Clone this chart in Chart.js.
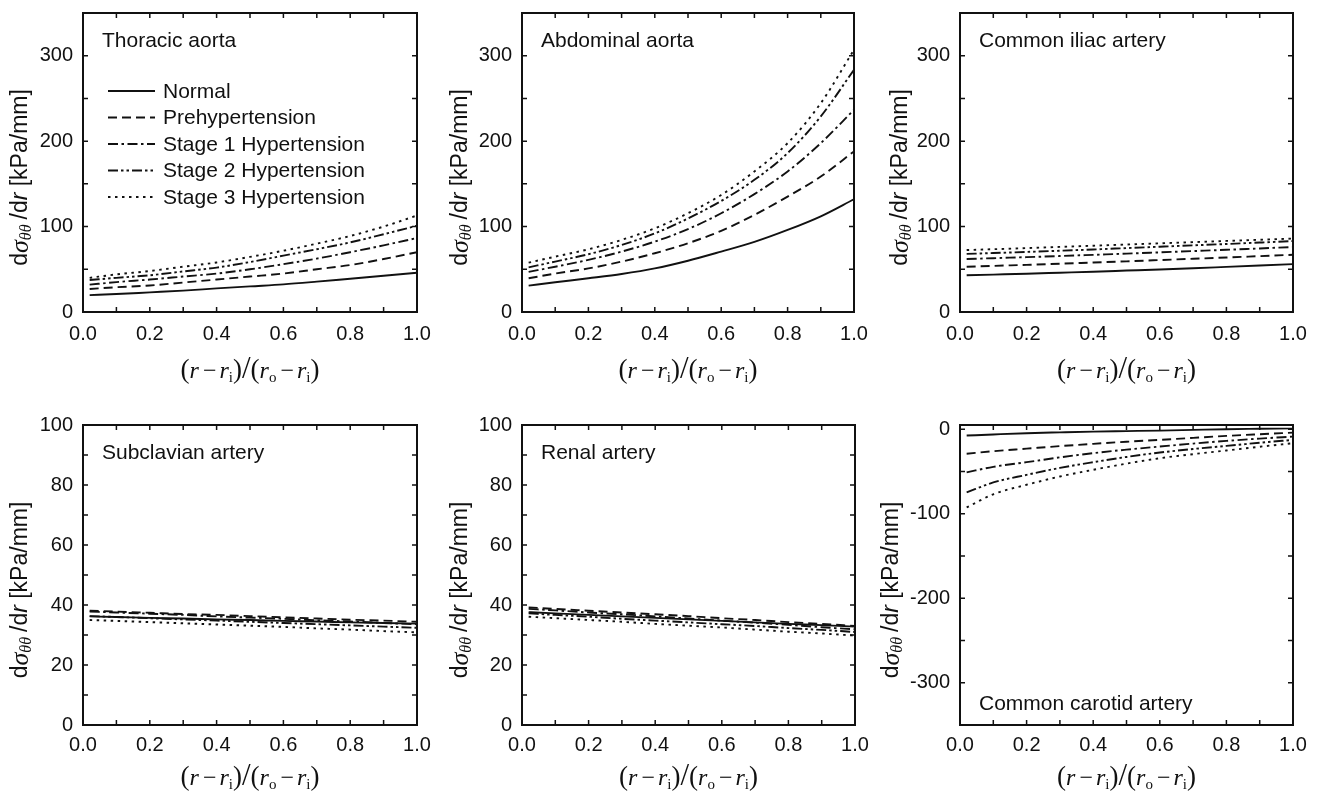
<!DOCTYPE html>
<html>
<head>
<meta charset="utf-8">
<script src="https://cdn.jsdelivr.net/npm/chart.js@4.4.0/dist/chart.umd.min.js"></script>
<style>
  body { margin: 0; background: #fff; }
  .panel { position: absolute; }
</style>
</head>
<body>
<div class="panel" style="left:0;top:0"><canvas id="c1" width="440" height="400"></canvas></div>
<div class="panel" style="left:440px;top:0"><canvas id="c2" width="440" height="400"></canvas></div>
<div class="panel" style="left:880px;top:0"><canvas id="c3" width="438" height="400"></canvas></div>
<div class="panel" style="left:0;top:400px"><canvas id="c4" width="440" height="399"></canvas></div>
<div class="panel" style="left:440px;top:400px"><canvas id="c5" width="440" height="399"></canvas></div>
<div class="panel" style="left:880px;top:400px"><canvas id="c6" width="438" height="399"></canvas></div>
<script>
// normalised radius (r - ri)/(ro - ri)
const xPos = [0.02, 0.1, 0.2, 0.3, 0.4, 0.5, 0.6, 0.7, 0.8, 0.9, 1.0];
const groups = ['Normal', 'Prehypertension', 'Stage 1 Hypertension', 'Stage 2 Hypertension', 'Stage 3 Hypertension'];
const xTicks = [0, 0.2, 0.4, 0.6, 0.8, 1.0];
const yTicksLarge = [0, 100, 200, 300];
const yTicksSmall = [0, 20, 40, 60, 80, 100];
const yTicksCarotid = [0, -100, -200, -300];

// d sigma_theta theta / dr [kPa/mm], one row per group
const thoracicAorta = [
  [19.7, 21, 23, 25, 27.6, 30, 32.3, 35.5, 39, 42.5, 46],
  [27, 29, 31, 34.5, 38, 41.5, 45, 50, 55, 62, 70],
  [32, 35, 38, 41.5, 45, 50, 56, 62.5, 70, 78, 86.6],
  [37.4, 40, 43, 47.5, 52, 58.5, 66, 73.5, 81.5, 91, 101],
  [40, 44, 48, 53, 58, 64.5, 71.7, 80, 89, 100, 113]
];
const abdominalAorta = [
  [30.9, 34.8, 39.5, 44.5, 51, 60, 70.7, 82, 96, 112, 132],
  [39.5, 45, 51, 59, 68.8, 80.5, 95, 113.7, 135, 158.6, 188],
  [47, 53, 61, 70.7, 82.4, 97, 115.6, 138, 164.5, 197.7, 236.7],
  [52.3, 59, 67.6, 78.5, 92, 109.5, 130, 154.7, 186, 229, 283.6],
  [57.8, 64.8, 73.4, 84.4, 98, 115.6, 137, 164.5, 197.7, 244.5, 307]
];
const commonIliac = [
  [43, 43.8, 44.8, 46, 47.2, 48.5, 49.8, 51.2, 52.8, 54.4, 56],
  [53, 54, 55.2, 56.5, 57.9, 59.3, 60.8, 62.3, 63.8, 65.4, 67],
  [62, 63, 64.2, 65.5, 66.9, 68.3, 69.8, 71.3, 72.8, 74.4, 76],
  [68, 69, 70.3, 71.7, 73.2, 74.8, 76.4, 78, 79.6, 81.3, 83],
  [72.5, 73.5, 74.8, 76.2, 77.6, 79, 80.4, 81.8, 83.2, 84.6, 86]
];
const subclavian = [
  [36.2, 36.0, 35.7, 35.5, 35.2, 35.0, 34.7, 34.5, 34.2, 34.0, 33.8],
  [38.1, 37.8, 37.4, 37.0, 36.7, 36.3, 35.9, 35.5, 35.1, 34.8, 34.4],
  [37.8, 37.5, 37.1, 36.7, 36.2, 35.8, 35.4, 34.9, 34.5, 34.0, 33.6],
  [36.3, 36.0, 35.6, 35.2, 34.8, 34.4, 34.0, 33.6, 33.2, 32.8, 32.4],
  [35.0, 34.7, 34.3, 33.9, 33.5, 33.1, 32.7, 32.2, 31.8, 31.3, 30.9]
];
const renal = [
  [37.6, 37.2, 36.7, 36.2, 35.7, 35.2, 34.7, 34.2, 33.7, 33.3, 32.8],
  [39.2, 38.7, 38.1, 37.5, 36.9, 36.3, 35.6, 35.0, 34.3, 33.7, 33.0],
  [38.7, 38.2, 37.5, 36.9, 36.2, 35.5, 34.8, 34.1, 33.4, 32.6, 31.9],
  [37.2, 36.7, 36.1, 35.4, 34.8, 34.2, 33.6, 33.0, 32.3, 31.7, 31.0],
  [36.1, 35.6, 35.0, 34.4, 33.7, 33.1, 32.5, 31.8, 31.1, 30.5, 29.8]
];
const commonCarotid = [
  [-7.5, -6.2, -4.7, -3.7, -2.8, -2.2, -1.6, -0.8, 0, 0.6, 1.2],
  [-29, -26, -23, -20, -17.3, -14.8, -12.6, -10.2, -7.9, -5.9, -4],
  [-51, -44.5, -39, -33.3, -28.3, -24.2, -20.5, -17, -13.8, -11.1, -8.7],
  [-74.8, -63, -54, -45.8, -39, -32.8, -27.6, -23.4, -19.7, -16, -12.6],
  [-92.5, -77, -65.7, -56, -48, -40.7, -34.3, -29.5, -25.2, -20.7, -16.5]
];

const dashes = [[], [9, 5], [10, 3.5, 2.5, 3.5], [10, 3, 2.5, 3, 2.5, 3], [2.5, 4.5]];
const SANS = '"Liberation Sans", Arial, sans-serif';
const SERIF = '"Liberation Serif", "Times New Roman", serif';
const INK = '#111';

// draw a row of text pieces with their own fonts, centred on 0
function drawPieces(ctx, pieces) {
  let total = 0;
  pieces.forEach(p => { ctx.font = p.f; p.w = ctx.measureText(p.t).width + (p.gap || 0); total += p.w; });
  let cx = -total / 2;
  pieces.forEach(p => {
    ctx.font = p.f;
    ctx.fillText(p.t, cx, p.dy || 0);
    cx += p.w;
  });
}

const yTitle = [
  { t: 'd', f: '23px ' + SANS },
  { t: 'σ', f: 'italic 26px ' + SERIF },
  { t: 'θθ', f: 'italic 16px ' + SERIF, dy: 6, gap: 5 },
  { t: '/d', f: '23px ' + SANS },
  { t: 'r', f: 'italic 23px ' + SANS },
  { t: ' [kPa/mm]', f: '23px ' + SANS }
];
const xTitle = [
  { t: '(', f: '27px ' + SERIF },
  { t: 'r', f: 'italic 24px ' + SERIF, gap: 4 },
  { t: '−', f: '24px ' + SERIF, gap: 3 },
  { t: 'r', f: 'italic 24px ' + SERIF },
  { t: 'i', f: '15px ' + SERIF, dy: 4 },
  { t: ')', f: '27px ' + SERIF },
  { t: '/', f: '31px ' + SERIF },
  { t: '(', f: '27px ' + SERIF },
  { t: 'r', f: 'italic 24px ' + SERIF },
  { t: 'o', f: '15px ' + SERIF, dy: 4, gap: 4 },
  { t: '−', f: '24px ' + SERIF, gap: 3 },
  { t: 'r', f: 'italic 24px ' + SERIF },
  { t: 'i', f: '15px ' + SERIF, dy: 4 },
  { t: ')', f: '27px ' + SERIF }
];

const decor = {
  id: 'decor',
  afterDatasetsDraw(chart, args, o) {
    const { ctx, chartArea: a, scales: { x, y } } = chart;
    ctx.save();
    ctx.strokeStyle = INK;
    ctx.fillStyle = INK;
    ctx.setLineDash([]);

    // inward ticks on all four sides
    ctx.lineWidth = 1.5;
    ctx.beginPath();
    for (let i = 0; i <= 10; i++) {
      const px = x.getPixelForValue(i / 10);
      ctx.moveTo(px, a.bottom); ctx.lineTo(px, a.bottom - 5);
      ctx.moveTo(px, a.top); ctx.lineTo(px, a.top + 5);
    }
    for (let v = o.yFrom; v <= o.yTo + 1e-6; v += o.yStep) {
      const py = y.getPixelForValue(v);
      ctx.moveTo(a.left, py); ctx.lineTo(a.left + 5, py);
      ctx.moveTo(a.right, py); ctx.lineTo(a.right - 5, py);
    }
    ctx.stroke();
    ctx.lineWidth = 2;
    ctx.strokeRect(a.left, a.top, a.right - a.left, a.bottom - a.top);

    // panel name
    ctx.font = '21px ' + SANS;
    ctx.textAlign = 'left';
    ctx.textBaseline = 'alphabetic';
    ctx.fillText(o.title, a.left + 19, o.titleBottom ? a.bottom - 15 : a.top + 34);

    // legend (first panel only)
    if (o.legend) {
      ctx.textBaseline = 'middle';
      chart.data.datasets.forEach((ds, i) => {
        const ly = a.top + 78 + i * 26.5;
        ctx.lineWidth = ds.borderWidth;
        ctx.setLineDash(ds.borderDash);
        ctx.beginPath();
        ctx.moveTo(a.left + 25, ly); ctx.lineTo(a.left + 72, ly);
        ctx.stroke();
        ctx.setLineDash([]);
        ctx.fillText(ds.label, a.left + 80, ly + 1);
      });
    }

    // axis titles
    ctx.textAlign = 'left';
    ctx.textBaseline = 'middle';
    ctx.save();
    ctx.translate(o.yTitleX, (a.top + a.bottom) / 2 + 15);
    ctx.rotate(-Math.PI / 2);
    drawPieces(ctx, yTitle);
    ctx.restore();

    ctx.textBaseline = 'alphabetic';
    ctx.save();
    ctx.translate((a.left + a.right) / 2, a.bottom + o.xTitleDy);
    drawPieces(ctx, xTitle);
    ctx.restore();

    ctx.restore();
  }
};

function buildChart(id, p) {
  const canvas = document.getElementById(id);
  const W = canvas.width, H = canvas.height;
  return new Chart(canvas.getContext('2d'), {
    type: 'line',
    data: {
      datasets: p.rows.map((row, i) => ({
        label: groups[i],
        data: row.map((v, j) => ({ x: xPos[j], y: v })),
        borderColor: INK,
        borderWidth: 1.9,
        borderDash: dashes[i],
        pointRadius: 0,
        fill: false,
        cubicInterpolationMode: 'monotone'
      }))
    },
    options: {
      responsive: false,
      animation: false,
      devicePixelRatio: 1,
      layout: { autoPadding: false, padding: { top: p.top, right: W - p.right, left: 0, bottom: 0 } },
      scales: {
        x: {
          type: 'linear',
          min: 0,
          max: 1,
          afterBuildTicks: ax => { ax.ticks = xTicks.map(v => ({ value: v })); },
          afterFit: ax => { ax.height = H - p.bottom; ax.paddingLeft = 0; ax.paddingRight = 0; },
          grid: { display: false, drawTicks: false },
          border: { display: false },
          ticks: {
            padding: p.xPad,
            maxRotation: 0,
            color: INK,
            font: { family: SANS, size: 20 },
            callback: v => Number(v).toFixed(1)
          }
        },
        y: {
          type: 'linear',
          min: p.yMin,
          max: p.yMax,
          afterBuildTicks: ax => { ax.ticks = p.yTicks.map(v => ({ value: v })); },
          afterFit: ax => { ax.width = p.left; ax.paddingTop = 0; ax.paddingBottom = 0; },
          grid: { display: false, drawTicks: false },
          border: { display: false },
          ticks: {
            padding: 10,
            color: INK,
            font: { family: SANS, size: 20 },
            callback: v => String(v)
          }
        }
      },
      plugins: {
        legend: { display: false },
        tooltip: { enabled: false },
        decor: {
          title: p.title,
          titleBottom: !!p.titleBottom,
          legend: !!p.legend,
          yFrom: p.yFrom, yTo: p.yTo, yStep: p.yStep,
          xTitleDy: p.xTitleDy,
          yTitleX: p.yTitleX || 21
        }
      }
    },
    plugins: [decor]
  });
}

const topRow = { top: 13, bottom: 312, yMin: 0, yMax: 350, yTicks: yTicksLarge, yFrom: 0, yTo: 350, yStep: 50, xPad: 10, xTitleDy: 66 };
const lowRow = { top: 25, bottom: 325, yMin: 0, yMax: 100, yTicks: yTicksSmall, yFrom: 0, yTo: 100, yStep: 10, xPad: 8, xTitleDy: 60 };

buildChart('c1', Object.assign({}, topRow, { left: 83, right: 417, rows: thoracicAorta, title: 'Thoracic aorta', legend: true }));
buildChart('c2', Object.assign({}, topRow, { left: 82, right: 414, rows: abdominalAorta, title: 'Abdominal aorta' }));
buildChart('c3', Object.assign({}, topRow, { left: 80, right: 413, rows: commonIliac, title: 'Common iliac artery' }));
buildChart('c4', Object.assign({}, lowRow, { left: 83, right: 417, rows: subclavian, title: 'Subclavian artery' }));
buildChart('c5', Object.assign({}, lowRow, { left: 82, right: 415, rows: renal, title: 'Renal artery' }));
buildChart('c6', Object.assign({}, lowRow, {
  left: 80, right: 413, rows: commonCarotid, title: 'Common carotid artery', titleBottom: true,
  yMin: -350, yMax: 5, yTicks: yTicksCarotid, yFrom: -350, yTo: 0, yStep: 50, yTitleX: 12
}));
</script>
</body>
</html>
